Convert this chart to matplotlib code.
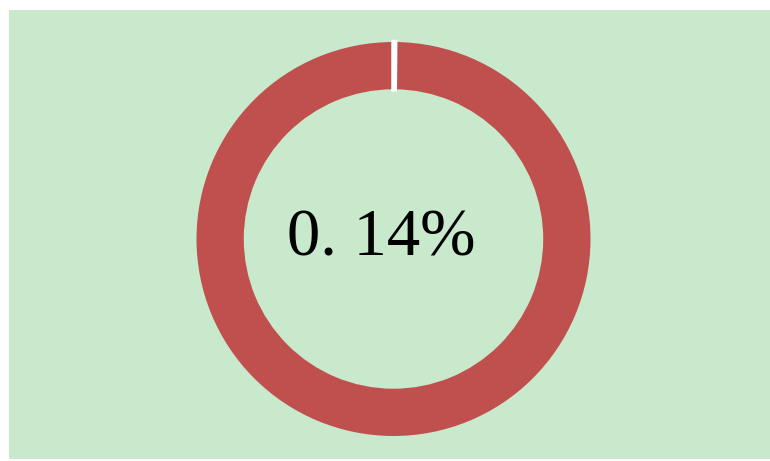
import matplotlib
matplotlib.use("Agg")
import matplotlib.pyplot as plt
from matplotlib.patches import Rectangle, Wedge

# donut data: tiny share vs the rest
labels = ["share", "rest"]
values = [0.14, 99.86]
colors = ["#ffffff", "#c0504d"]
center_label = "0. 14%"

W, H = 770, 461
fig = plt.figure(figsize=(W / 100, H / 100), dpi=100)
fig.patch.set_facecolor("white")

# green plot area
fig.patches.append(Rectangle((9 / W, 2 / H), (W - 9) / W, (459 - 10) / H,
                             transform=fig.transFigure, facecolor="#c9e9cc",
                             edgecolor="none", zorder=0))

r_px = 197
cx, cy = 393.5, 239
ax = fig.add_axes([(cx - r_px) / W, (H - cy - r_px) / H, 2 * r_px / W, 2 * r_px / H])
ax.set_zorder(2)
ax.patch.set_alpha(0)

ring_w = 0.24
wedges, _ = ax.pie(values, colors=colors, startangle=90, counterclock=False,
                   radius=1, wedgeprops=dict(width=ring_w, linewidth=0))
ax.set_xlim(-1, 1)
ax.set_ylim(-1, 1)
ax.set_aspect("equal")
ax.axis("off")

# white gap around the tiny slice, drawn on top and kept inside the ring
ring = Wedge((0, 0), 1, 0, 360, width=ring_w)
wedges[0].set_edgecolor("white")
wedges[0].set_linewidth(3.2)
wedges[0].set_zorder(5)
wedges[0].set_clip_path(ring.get_path(), ax.transData)

fig.text(381.5 / W, (H - 255) / H, center_label, ha="center", va="baseline",
         fontsize=48, family=["Liberation Serif", "DejaVu Serif"], color="black",
         zorder=3)

fig.savefig("out.png", dpi=100)
